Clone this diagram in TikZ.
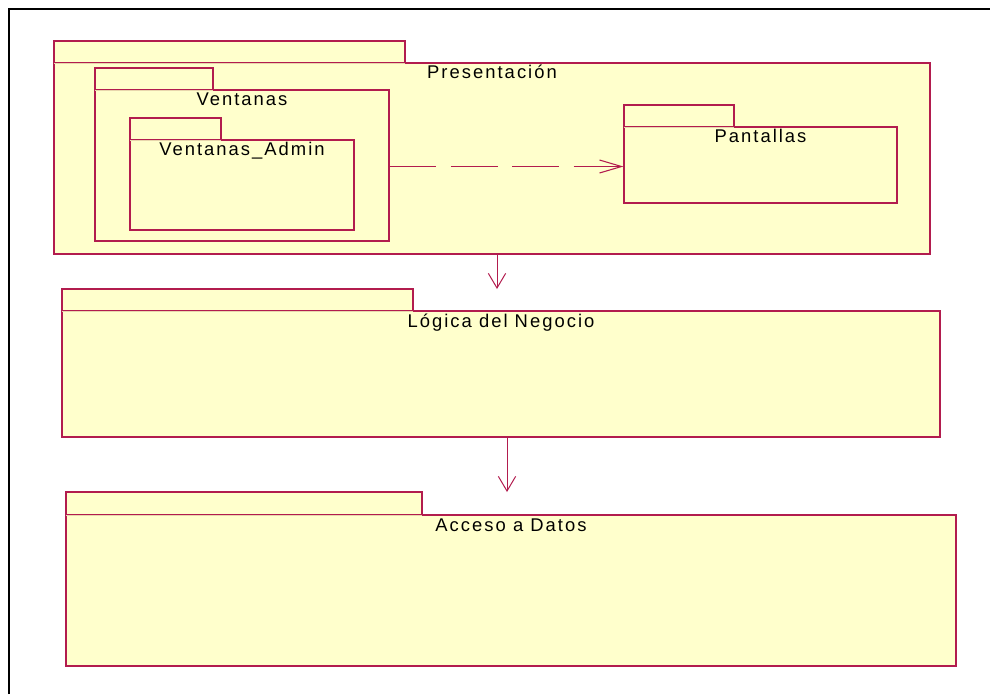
\documentclass[tikz,border=0pt]{standalone}
\usepackage{fontspec}
\usetikzlibrary{arrows.meta,fit,positioning}
\newfontfamily\pkgfont{Liberation Sans}[LetterSpace=11]
\definecolor{pkgfill}{RGB}{255,255,204}
\definecolor{pkgline}{RGB}{178,28,78}
\definecolor{tabline}{RGB}{232,214,172}

\begin{document}
\begin{tikzpicture}[x=0.75pt,y=-0.75pt,
    pkgbody/.style={draw=pkgline, fill=pkgfill, line width=0.9pt, inner sep=0pt},
    pkgtab/.style={draw=pkgline, fill=pkgfill, line width=0.9pt, inner sep=0pt},
    tabsep/.style={draw=tabline, line width=0.8pt, shorten <=0.6pt, shorten >=0.6pt},
    pkgname/.style={anchor=base, inner sep=0pt, font=\pkgfont\fontsize{13.8}{15}\selectfont},
    usedep/.style={draw=pkgline, line width=0.75pt, -{Straight Barb[length=11pt,width=13pt]}},
    calldep/.style={draw=pkgline, line width=0.8pt, dash pattern=on 35pt off 11pt,
      -{Straight Barb[length=16.5pt,width=9.75pt]}}]
  \useasboundingbox (0,0) rectangle (990,694);
  \draw[line width=1.8pt] (9,694) -- (9,9) -- (990,9);

  % Presentacion
  \node[pkgbody, fit={(54,63) (930,254)}] (presBody) {};
  \node[pkgtab, fit={(54,41) (405,63)}] (presTab) {};
  \draw[tabsep] (presTab.south west) -- (presTab.south east);
  \node[pkgname] (presName) at ([yshift=-12.4pt]presBody.north) {Presentación};

  % Ventanas
  \node[pkgbody, fit={(95,90) (389,241)}] (ventBody) {};
  \node[pkgtab, fit={(95,68) (213,90)}] (ventTab) {};
  \draw[tabsep] (ventTab.south west) -- (ventTab.south east);
  \node[pkgname] (ventName) at ([yshift=-12.4pt]ventBody.north) {Ventanas};

  % Ventanas_Admin
  \node[pkgbody, fit={(130,140) (354,230)}] (adminBody) {};
  \node[pkgtab, fit={(130,118) (221,140)}] (adminTab) {};
  \draw[tabsep] (adminTab.south west) -- (adminTab.south east);
  \node[pkgname] (adminName) at ([yshift=-12.4pt]adminBody.north) {Ventanas\_Admin};

  % Pantallas
  \node[pkgbody, fit={(624,127) (897,203)}] (pantBody) {};
  \node[pkgtab, fit={(624,105) (734,127)}] (pantTab) {};
  \draw[tabsep] (pantTab.south west) -- (pantTab.south east);
  \node[pkgname] (pantName) at ([yshift=-12.4pt]pantBody.north) {Pantallas};

  % Logica del Negocio
  \node[pkgbody, fit={(62,311) (940,437)}] (logBody) {};
  \node[pkgtab, fit={(62,289) (413,311)}] (logTab) {};
  \draw[tabsep] (logTab.south west) -- (logTab.south east);
  \node[pkgname] (logName) at ([yshift=-12.6pt]logBody.north) {Lógica del Negocio};

  % Acceso a Datos
  \node[pkgbody, fit={(66,515) (956,666)}] (accBody) {};
  \node[pkgtab, fit={(66,492) (422,515)}] (accTab) {};
  \draw[tabsep] (accTab.south west) -- (accTab.south east);
  \node[pkgname] (accName) at ([yshift=-12.6pt]accBody.north) {Acceso a Datos};

  % dependencias
  \coordinate (callY) at (0,166.5);
  \coordinate (logTip) at (497,289);
  \coordinate (accTip) at (507,492);
  \draw[calldep] (ventBody.east |- callY) -- (pantBody.west |- callY);
  \draw[usedep] (presBody.south -| logTip) -- (logTip);
  \draw[usedep] (logBody.south -| accTip) -- (accTip);
\end{tikzpicture}
\end{document}
